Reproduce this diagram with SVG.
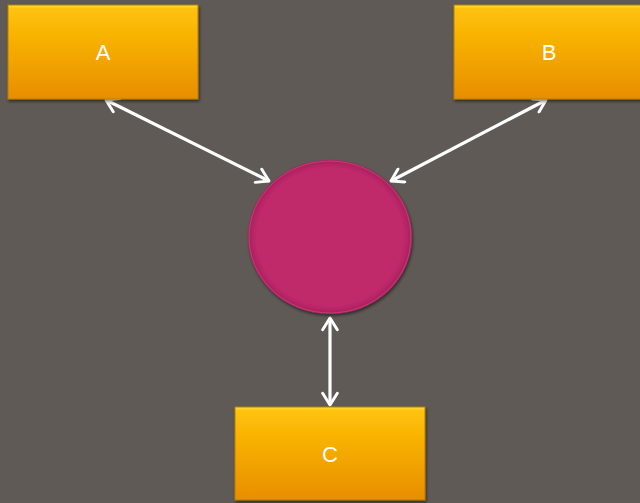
<svg xmlns="http://www.w3.org/2000/svg" width="640" height="503" viewBox="0 0 640 503">
<defs>
<linearGradient id="boxg" x1="0" y1="0" x2="0" y2="1">
<stop offset="0" stop-color="#ffe040"/>
<stop offset="0.04" stop-color="#ffc208"/>
<stop offset="1" stop-color="#e88e00"/>
</linearGradient>
<radialGradient id="cg" cx="0.5" cy="0.5" r="0.5">
<stop offset="0.9" stop-color="#c0296b"/>
<stop offset="1" stop-color="#a8205c"/>
</radialGradient>
<filter id="sh" x="-10%" y="-10%" width="120%" height="130%">
<feDropShadow dx="1" dy="2" stdDeviation="1.5" flood-color="#000" flood-opacity="0.5"/>
</filter>
<marker id="ah" viewBox="0 0 12 12" refX="10" refY="6" markerWidth="5.5" markerHeight="5.5" markerUnits="strokeWidth" orient="auto-start-reverse">
<path d="M2,1 L10,6 L2,11" fill="none" stroke="#fff" stroke-width="2" stroke-linecap="round" stroke-linejoin="round"/>
</marker>
</defs>
<style>
.box{fill:url(#boxg);stroke:#b57d00;stroke-width:1;filter:url(#sh)}
.lbl{font-family:"Liberation Sans",Arial,sans-serif;font-size:22px;fill:#fff;text-anchor:middle}
.con{stroke:#fff;stroke-width:3.2;fill:none;marker-start:url(#ah);marker-end:url(#ah)}
</style>
<rect width="640" height="503" fill="#5f5a55"/>
<g id="connectors">
<line class="con" x1="106" y1="100" x2="269" y2="181"/>
<line class="con" x1="546" y1="100" x2="391" y2="181"/>
<line class="con" x1="330" y1="318" x2="330" y2="405"/>
</g>
<g id="hub">
<ellipse cx="330" cy="237" rx="82" ry="77" fill="url(#cg)" filter="url(#sh)"/>
<ellipse cx="330" cy="237" rx="81" ry="76" fill="none" stroke="#e2528e" stroke-width="1" opacity="0.5"/>
</g>
<g id="nodeA">
<rect class="box" x="8" y="5" width="190" height="94"/>
<text class="lbl" x="103" y="60">A</text>
</g>
<g id="nodeB">
<rect class="box" x="454" y="5" width="190" height="94"/>
<text class="lbl" x="549" y="60">B</text>
</g>
<g id="nodeC">
<rect class="box" x="235" y="407" width="190" height="93"/>
<text class="lbl" x="330" y="462">C</text>
</g>
</svg>
